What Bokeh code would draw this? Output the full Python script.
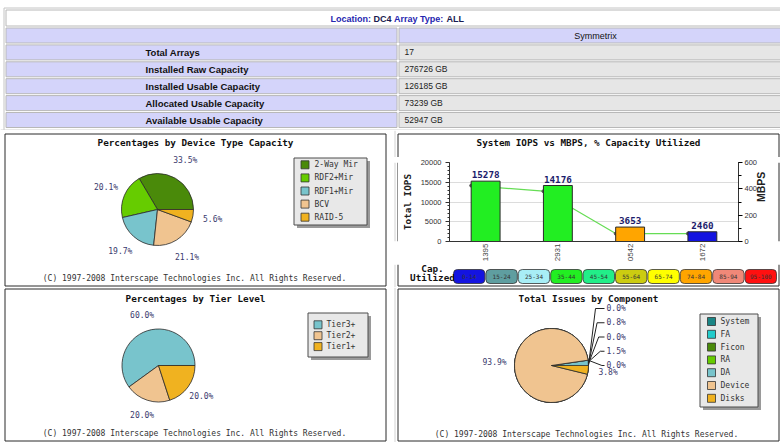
import math
from bokeh.plotting import figure
from bokeh.models import Range1d, FactorRange, LinearAxis, SingleIntervalTicker, ColumnDataSource
from bokeh.layouts import column, row
from bokeh.transform import dodge
from bokeh.core.properties import value
from bokeh.embed import file_html
from bokeh.resources import INLINE

# ---------------- data ----------------
location = "DC4"
array_type = "ALL"
array_family = "Symmetrix"
summary_labels = ["Total Arrays", "Installed Raw Capacity", "Installed Usable Capacity",
                  "Allocated Usable Capacity", "Available Usable Capacity"]
summary_values = ["17", "276726 GB", "126185 GB", "73239 GB", "52947 GB"]

device_types = ["2-Way Mir", "RDF2+Mir", "RDF1+Mir", "BCV", "RAID-5"]
device_pct = [33.5, 20.1, 19.7, 21.1, 5.6]
device_colors = ["#4a8a0a", "#66cc00", "#78c4cc", "#f0c490", "#f0b220"]

tiers = ["Tier3+", "Tier2+", "Tier1+"]
tier_pct = [60.0, 20.0, 20.0]
tier_colors = ["#78c4cc", "#f0c490", "#f0b220"]

components = ["System", "FA", "Ficon", "RA", "DA", "Device", "Disks"]
component_pct = [0.0, 0.8, 0.0, 1.5, 0.0, 93.9, 3.8]
component_colors = ["#1a8585", "#22cccc", "#4a8a0a", "#66cc00", "#78c4cc", "#f0c490", "#f0b220"]

arrays = ["1395", "2931", "0542", "1672"]
array_iops = [15278, 14176, 3653, 2460]
array_mbps = [425, 382, 60, 60]
array_util_bin = ["35-44", "35-44", "74-84", "0-14"]
util_bins = ["0-14", "15-24", "25-34", "35-44", "45-54", "55-64", "65-74", "74-84", "85-94", "95-100"]
util_colors = ["#1414e0", "#5f9ea0", "#a8eef6", "#22ee22", "#22ee88", "#cccc11",
               "#ffff00", "#ffa500", "#f08878", "#ff1010"]

copyright_text = "(C) 1997-2008 Interscape Technologies Inc. All Rights Reserved."

MONO = "DejaVu Sans Mono"
SANS = "Liberation Sans"
LAV = "#d4d4fa"
GRAY = "#e6e6e6"
CELL_LINE = "#b8b8b8"
FAINT = "#d2d2d2"
BOX = "#2a2a2a"
LBL = "#3a3a6e"


def base_fig(w, h, xr=None, yr=None):
    p = figure(width=w, height=h,
               x_range=xr if xr is not None else Range1d(0, w),
               y_range=yr if yr is not None else Range1d(h, 0),
               output_backend="svg", toolbar_location=None,
               x_axis_location=None, y_axis_location=None, min_border=0)
    p.grid.visible = False
    p.outline_line_color = None
    p.background_fill_color = "white"
    p.border_fill_color = "white"
    return p


def txt(p, x, y, s, size, color="#333333", font=MONO, align="center",
        baseline="middle", style="normal"):
    if isinstance(s, list):
        n = len(s)
    else:
        s = [s]
        n = 1
    xs = x if isinstance(x, list) else [x] * n
    ys = y if isinstance(y, list) else [y] * n
    p.text(x=xs, y=ys, text=s, text_font=value(font), text_font_size=size, text_color=color,
           text_align=align, text_baseline=baseline, text_font_style=style)


def pie(p, cx, cy, r, pct, colors):
    total = float(sum(pct))
    starts, ends, acc = [], [], 0.0
    for v in pct:
        starts.append(2 * math.pi * acc / total)
        acc += v
        ends.append(2 * math.pi * acc / total)
    p.wedge(x=cx, y=cy, radius=r, start_angle=starts, end_angle=ends,
            fill_color=colors, line_color="#2a2a2a", line_width=0.8)
    return starts, ends


def radial_labels(p, cx, cy, lr, pct, starts, ends, idx):
    xs, ys, ts = [], [], []
    for i in idx:
        m = (starts[i] + ends[i]) / 2
        xs.append(cx + lr * math.cos(m))
        ys.append(cy - lr * math.sin(m))
        ts.append("%.1f%%" % pct[i])
    txt(p, xs, ys, ts, "8px", color=LBL)


def legend(p, box, names, colors, y0, step, sw_x, tx):
    l, r_, t, b = box
    p.quad(left=l + 3, right=r_ + 3, top=t + 3, bottom=b + 3, fill_color="#9a9a9a", line_color=None)
    p.quad(left=l, right=r_, top=t, bottom=b, fill_color="#e8e8e8", line_color="#4d4d4d", line_width=1)
    ys = [y0 + i * step for i in range(len(names))]
    p.quad(left=sw_x, right=sw_x + 8, top=[y - 4 for y in ys], bottom=[y + 4 for y in ys],
           fill_color=colors, line_color="#333333", line_width=0.8)
    txt(p, tx, ys, list(names), "8px", color="#333333", align="left")


def panel_box(p, l, r_, t, b):
    p.quad(left=l, right=r_, top=t, bottom=b, fill_color=None, line_color=BOX, line_width=1)


# ---------------- table ----------------
tbl = base_fig(780, 130)
tbl.quad(left=3.5, right=781, top=7.5, bottom=131, fill_color="white", line_color="#c4c4c4")
tbl.quad(left=5.5, right=781, top=9.5, bottom=25.5, fill_color="white", line_color=CELL_LINE)
row_tops = [27.5 + 16.9 * i for i in range(len(summary_labels) + 1)]
row_bots = [t + 15 for t in row_tops]
tbl.quad(left=5.5, right=396.5, top=row_tops, bottom=row_bots, fill_color=LAV, line_color=CELL_LINE)
tbl.quad(left=398.5, right=781, top=row_tops, bottom=row_bots,
         fill_color=[LAV] + [GRAY] * len(summary_labels), line_color=CELL_LINE)
tbl.segment(x0=0, y0=129.5, x1=780, y1=129.5, line_color=FAINT)
loc_pieces = ["Location:", location, "Array Type:", array_type]
loc_colors = ["#2626b0", "#1a1a50", "#2626b0", "#1a1a50"]
loc_x = [330, 373, 393.5, 446]
tbl.text(x=loc_x, y=18, text=loc_pieces, text_color=loc_colors, text_font=value(SANS),
         text_font_size="9px", text_font_style="bold", text_align="left", text_baseline="middle")
txt(tbl, 595, row_tops[0] + 7.5, array_family, "9px", color="#111111", font=SANS)
txt(tbl, 145, [t + 7.5 for t in row_tops[1:]], summary_labels, "9.5px", color="#111111",
    font=SANS, align="left", style="bold")
txt(tbl, 404, [t + 7.5 for t in row_tops[1:]], summary_values, "8.5px", color="#222222",
    font=SANS, align="left")

# ---------------- panel A: device type ----------------
pa = base_fig(391, 157)
panel_box(pa, 4.5, 385.5, 3.5, 155.5)
txt(pa, 195, 12, "Percentages by Device Type Capacity", "9.3px", color="#111111", style="bold")
s, e = pie(pa, 157, 79, 36, device_pct, device_colors)
radial_labels(pa, 157, 79, 56, device_pct, s, e, range(len(device_pct)))
legend(pa, (293.5, 366.5, 27.5, 94.5), device_types, device_colors, 34.3, 13.1, 300.5, 314)
txt(pa, 194, 147.7, copyright_text, "8px", color="#333333")

# ---------------- panel B: IOPS vs MBPS ----------------
BW = 389
TOP_H, BAR_H = 27, 107
BOT_H = 157 - TOP_H - BAR_H
pb_top = base_fig(BW, TOP_H)
pb_top.multi_line(xs=[[6.5, 6.5, 387.5, 387.5]], ys=[[TOP_H, 3.5, 3.5, TOP_H]], line_color=BOX, line_width=1)
pb_top.segment(x0=3.5, y0=0, x1=3.5, y1=TOP_H, line_color=FAINT)
txt(pb_top, 197, 12, "System IOPS vs MBPS, % Capacity Utilized", "9.3px", color="#111111", style="bold")

pb_left = base_fig(7, BAR_H)
pb_left.segment(x0=6.5, y0=0, x1=6.5, y1=BAR_H, line_color=BOX, line_width=1)
pb_left.segment(x0=3.5, y0=0, x1=3.5, y1=BAR_H, line_color=FAINT)
pb_right = base_fig(4, BAR_H)
pb_right.segment(x0=2.5, y0=0, x1=2.5, y1=BAR_H, line_color=BOX, line_width=1)

bar_src = ColumnDataSource(dict(
    x=arrays, iops=array_iops, mbps=array_mbps,
    color=[util_colors[util_bins.index(b)] for b in array_util_bin],
    label=[str(v) for v in array_iops]))
bar = figure(width=378, height=BAR_H, x_range=FactorRange(factors=arrays, range_padding=0),
             y_range=Range1d(0, 20000), output_backend="svg", toolbar_location=None,
             min_border_left=49, min_border_right=38, min_border_top=5, min_border_bottom=23)
bar.background_fill_color = "white"
bar.border_fill_color = "white"
bar.outline_line_color = None
bar.extra_y_ranges = {"mbps": Range1d(0, 600)}
left_ticker = SingleIntervalTicker(interval=5000, num_minor_ticks=5)
bar.yaxis.ticker = left_ticker
bar.ygrid.ticker = left_ticker
bar.ygrid.grid_line_color = "#dcdcdc"
bar.xgrid.visible = False
ya = bar.yaxis[0]
ya.axis_label = "Total IOPS"
ya.axis_label_text_font = MONO
ya.axis_label_text_font_size = "9.3px"
ya.axis_label_text_font_style = "bold"
ya.axis_label_text_color = "#222222"
ya.axis_label_standoff = 5
ya.major_label_text_font = SANS
ya.major_label_text_font_size = "7.5px"
ya.major_label_text_color = "#333333"
ya.major_label_standoff = 4
ya.major_tick_out = 4
ya.major_tick_in = 0
ya.minor_tick_out = 2
ya.minor_tick_in = 0
ya.axis_line_color = "#333333"
ya.major_tick_line_color = "#333333"
ya.minor_tick_line_color = "#333333"

ra = LinearAxis(y_range_name="mbps", ticker=SingleIntervalTicker(interval=200, num_minor_ticks=2),
                axis_label="MBPS")
ra.axis_label_text_font = SANS
ra.axis_label_text_font_size = "10.5px"
ra.axis_label_text_font_style = "bold"
ra.axis_label_text_color = "#222222"
ra.axis_label_standoff = 1
ra.major_label_text_font = SANS
ra.major_label_text_font_size = "7.5px"
ra.major_label_text_color = "#333333"
ra.major_label_standoff = 2
ra.major_tick_out = 4
ra.major_tick_in = 0
ra.minor_tick_out = 3
ra.minor_tick_in = 0
ra.axis_line_color = "#333333"
if "axis_label_orientation" in ra.properties():
    ra.axis_label_orientation = math.pi / 2
bar.add_layout(ra, "right")

xa = bar.xaxis[0]
xa.major_label_orientation = math.pi / 2
xa.major_tick_line_color = None
xa.minor_tick_line_color = None
xa.major_tick_out = 0
xa.major_tick_in = 0
xa.axis_line_color = "#333333"
xa.major_label_text_font = SANS
xa.major_label_text_font_size = "8px"
xa.major_label_text_color = "#444444"
xa.major_label_standoff = 2

xd = dodge("x", -0.2, range=bar.x_range)
bar.line(x=xd, y="mbps", y_range_name="mbps", source=bar_src, line_color="#66dd55", line_width=1.2)
bar.scatter(x=xd, y="mbps", y_range_name="mbps", source=bar_src, size=3, color="#555555")
bar.vbar(x="x", top="iops", bottom=0, width=0.4, fill_color="color", line_color="#2a2a2a",
         line_width=1, source=bar_src)
bar.text(x="x", y="iops", text="label", source=bar_src, text_font=value(MONO), text_font_size="9.3px",
         text_font_style="bold", text_color="#1c1c6c", text_align="center", text_baseline="bottom",
         y_offset=-3)

# B_bot starts at page y = 130 + TOP_H + BAR_H
b0 = 130 + TOP_H + BAR_H
pb_bot = base_fig(BW, BOT_H)
pb_bot.multi_line(xs=[[6.5, 6.5, 387.5, 387.5]], ys=[[0, 285.5 - b0, 285.5 - b0, 0]],
                  line_color=BOX, line_width=1)
pb_bot.segment(x0=3.5, y0=0, x1=3.5, y1=BOT_H, line_color=FAINT)
nb = len(util_bins)
cw = 32.4
c_left = [62 + i * cw for i in range(nb)]
c_right = [l + cw - 1 for l in c_left]
pb_bot.quad(left=c_left, right=c_right, top=269 - b0, bottom=283 - b0, fill_color=util_colors,
            line_color="#333333", line_width=0.8, border_radius=4)
txt(pb_bot, [(l + r_) / 2 for l, r_ in zip(c_left, c_right)], 276.2 - b0, util_bins, "6px", color="#333333")
txt(pb_bot, 41, 267.8 - b0, "Cap.", "9.3px", color="#111111", style="bold")
txt(pb_bot, 41, 276.5 - b0, "Utilized", "9.3px", color="#111111", style="bold")

panel_b = column(pb_top, row(pb_left, bar, pb_right), pb_bot)

# ---------------- panel C: tier level ----------------
pc = base_fig(391, 155)
panel_box(pc, 4.5, 385.5, 1.5, 153.5)
txt(pc, 195, 11.3, "Percentages by Tier Level", "9.3px", color="#111111", style="bold")
s, e = pie(pc, 158, 78, 36.5, tier_pct, tier_colors)
radial_labels(pc, 158, 78, 53, tier_pct, s, e, range(len(tier_pct)))
legend(pc, (307.5, 367.5, 25.5, 69.5), tiers, tier_colors, 37.3, 10.9, 313.5, 326)
txt(pc, 194, 145.7, copyright_text, "8px", color="#333333")

# ---------------- panel D: issues by component ----------------
pd_ = base_fig(389, 155)
pd_.segment(x0=3.5, y0=0, x1=3.5, y1=155, line_color=FAINT)
panel_box(pd_, 6.5, 387.5, 1.5, 153.5)
txt(pd_, 197, 11.3, "Total Issues by Component", "9.3px", color="#111111", style="bold")
cx, cy, r = 160, 78, 37
s, e = pie(pd_, cx, cy, r, component_pct, component_colors)
small = [i for i, v in enumerate(component_pct) if v < 2.0]
big = [i for i, v in enumerate(component_pct) if v >= 2.0]
radial_labels(pd_, cx, cy, 57, component_pct, s, e, big)
n_small = len(small)
lx, ly, lt = [], [], []
xs_lines, ys_lines = [], []
for k, i in enumerate(small):
    m = (s[i] + e[i]) / 2
    ax, ay = cx + r * math.cos(m), cy - r * math.sin(m)
    yk = cy - 14.25 * (n_small - 1 - k)
    ex = 204 + 1.6 * k
    xs_lines.append([ax, ex, 213])
    ys_lines.append([ay, yk, yk])
    lx.append(215)
    ly.append(yk)
    lt.append("%.1f%%" % component_pct[i])
pd_.multi_line(xs=xs_lines, ys=ys_lines, line_color="#222222", line_width=1)
txt(pd_, lx, ly, lt, "8px", color=LBL, align="left")
legend(pd_, (308.5, 366.5, 26.5, 119.5), components, component_colors, 34, 12.8, 316, 329)
txt(pd_, 195, 147, copyright_text, "8px", color="#333333")

layout = column(tbl, row(pa, panel_b), row(pc, pd_))
open("out.html", "w").write(file_html(layout, INLINE))
